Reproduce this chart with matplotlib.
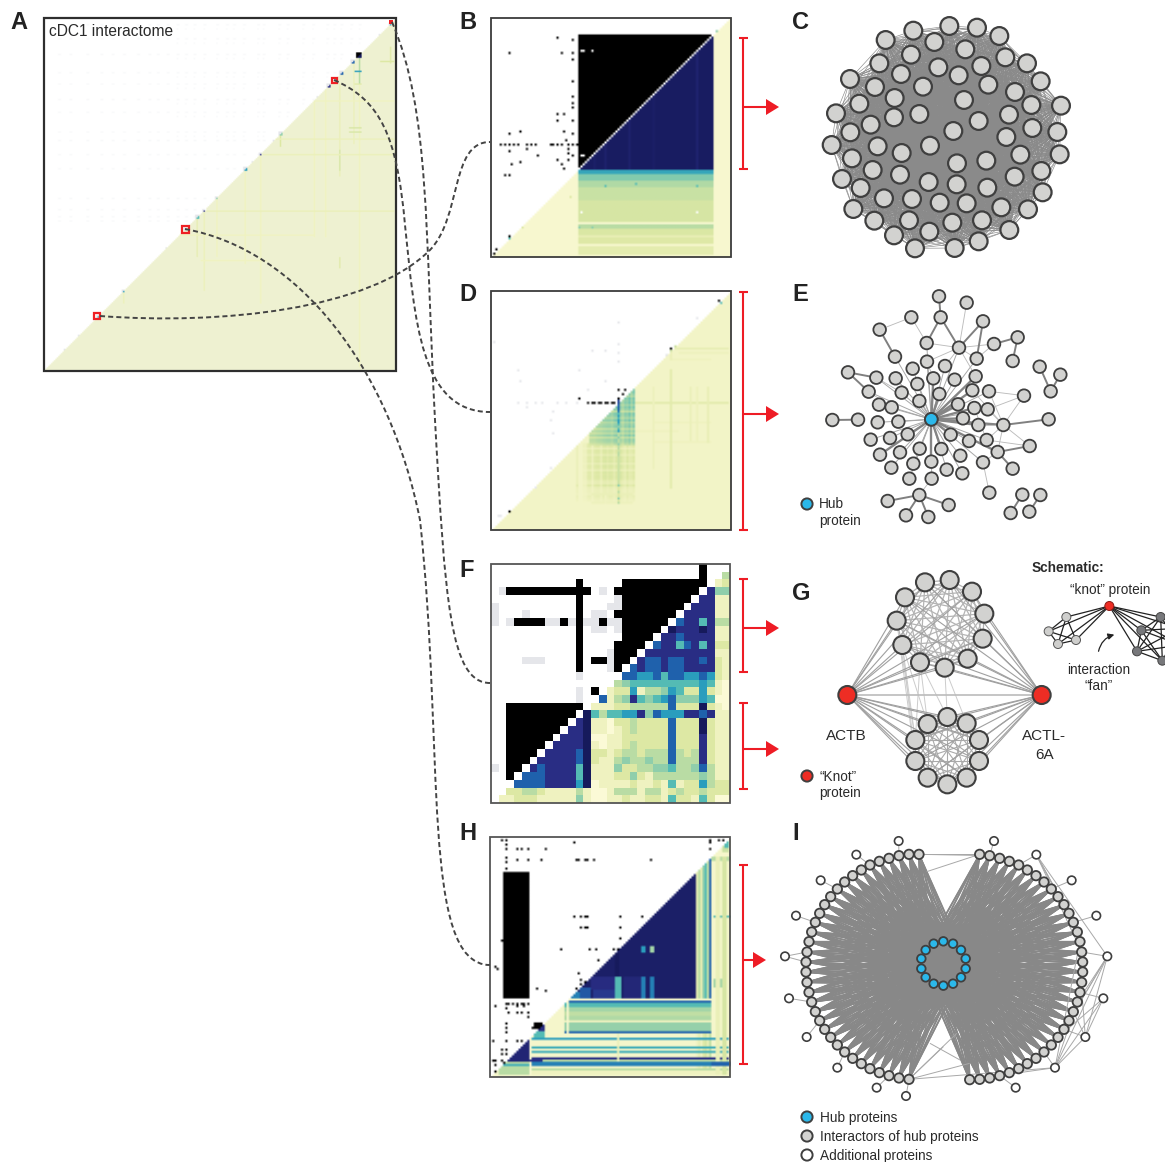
import matplotlib
matplotlib.use("Agg")
import matplotlib.pyplot as plt
import numpy as np
from matplotlib.collections import LineCollection
from matplotlib.colors import LinearSegmentedColormap
from matplotlib.patches import Circle, FancyArrowPatch, PathPatch, Polygon, Rectangle
from matplotlib.path import Path

plt.rcParams['font.family'] = ['Liberation Sans', 'DejaVu Sans']

heat_colors = ['#fbfad6', '#eff2c0', '#dde8a4', '#b9dca4', '#8fceac', '#55bcb4',
               '#2a9dbd', '#1f63ad', '#2a2e85', '#161a5c']
heat = LinearSegmentedColormap.from_list('heat', heat_colors)
BLACK, GRAY, FAINT, PALE = -1, -2, -3, -4

# panel F, one character per cell
f_rows = [
    '...........................k...',
    '...........................k..3',
    '...........k.....kkkkkkkkkkk.12',
    '.gkkkkkkkkkkk.g.kkkkkkkkkkk.844',
    '...........k....gkkkkkkkkk.8811',
    'g..........k...ggkkkkkkkk.88811',
    'g...g......k.gg.kkkkkkkk.888811',
    'g.gkkkkggkgkggkggkkkkkk.7885833',
    '...........k.gg.gkkkkk.98889811',
    '...........k.....kkkk.887888811',
    '...........k....kkkk.7885785822',
    '...........k...gkkk.88888888811',
    '....ggg....k.kkgkk.877877887821',
    '...........k...gk.7877877888821',
    '...........g.....77667577667621',
    '................345555555556510',
    '...........g.k.1226133465226210',
    '...........g..71348545674446500',
    '..kkkkkkkkkk.111223333372229210',
    '..kkkkkkkkk.9535566847666887811',
    '..kkkkkkkk.89110223222272229211',
    '..kkkkkkk.889110123222272229211',
    '..kkkkkk.8889001122222272228211',
    '..kkkkk.88889101123222272228211',
    '..kkkk.888879221233233373238211',
    '..kkk.8888879211343343373338211',
    'g.kk.87888859111422334453347311',
    '..k.777888859111224213333334311',
    '...7777888869011112112151226322',
    '..22332111131001333133123223222',
    '.112221111141001121122152215200',
]

# panel B: black cells and row bands, positions as read on a 3x crop
b_dots = [(233, 85), (277, 88), (89, 132), (244, 132), (277, 132), (277, 148), (277, 217), (277, 262),
          (277, 282), (277, 295), (233, 315), (252, 312), (233, 335), (277, 335), (122, 363), (89, 375),
          (250, 363), (277, 375), (256, 390), (62, 407), (75, 407), (89, 407), (105, 407), (116, 407),
          (140, 407), (152, 407), (165, 407), (210, 407), (222, 407), (233, 407), (244, 407), (268, 407),
          (277, 407), (290, 407), (89, 424), (140, 418), (268, 418), (268, 430), (277, 440), (172, 440),
          (233, 452), (244, 462), (268, 452), (94, 463), (122, 457), (250, 478), (78, 500), (89, 500),
          (89, 682), (50, 720), (40, 735)]
b_holes = [(303, 125), (312, 125), (340, 125), (303, 440), (312, 440)]
b_bands = [(482, 500, 5.7), (500, 515, 4.2), (515, 535, 3.2), (535, 575, 2.6), (575, 642, 2.2),
           (642, 648, 0.2), (648, 658, 3.0), (658, 682, 2.1), (682, 690, 1.4), (690, 706, 1.9),
           (706, 712, 0.3), (712, 738, 1.6)]
b_navy_cols = [(375, 8.6), (450, 8.6), (650, 8.5), (345, 8.7), (520, 8.75)]
b_specks = [(90, 685, 5), (130, 652, 2), (270, 560, 2), (300, 652, 4), (335, 652, 4), (375, 532, 5),
            (470, 522, 5), (650, 532, 5)]

# panel D
d_black = [(325, 358), (335, 358), (345, 358), (355, 358), (367, 358), (375, 358), (385, 358), (395, 358),
           (405, 358), (415, 313), (437, 313), (432, 330), (415, 342), (575, 192), (717, 48), (88, 680),
           (298, 342)]
d_gray = [(115, 358), (140, 358), (165, 358), (190, 358), (230, 358), (260, 358), (290, 358), (415, 112),
          (415, 180), (415, 205), (415, 230), (340, 198), (375, 198), (118, 255), (122, 290), (42, 175),
          (325, 315), (378, 290), (138, 370), (218, 380), (212, 410), (218, 450), (65, 695), (55, 695),
          (560, 210), (650, 100), (300, 260), (215, 555), (165, 608)]
d_plaid_cols = [1.3, 0, 0, 0.5, 0.5, 1.4, 1.5, 0.7, 1.5, 1.7, 1.7, 0.9, 1.8, 1.9, 1.5, 1.9, 1.8, 1.2, 1.8,
                2.2, 2.0, 1.4, 1.0, 1.8, 1.2, 1.3, 1.7]
d_plaid_rows = [0.7, 0.75, 0.4, 0.75, 0.7, 0.45, 0.75, 0.7, 0.75, 0.45, 0.75, 0.7, 0.4, 0.75, 0.7, 0.75, 0.7, 0.45,
                0.4, 0.75, 0.4, 0.3, 0.3, 0.2, 0.4, 0.3, 0.2]
d_teal_cols = [3.2, 3.3, 3.3, 3.5, 3.6, 3.6, 3.8, 3.9, 4.0, 4.0, 3.7, 4.2, 4.4, 6.5, 4.0, 3.4, 4.2, 4.0, 4.5,
               3.7, 4.5]
d_teal_rows = [1.0, 0.9, 1.0, 0.9, 0.8, 1.0, 0.95, 1.0, 0.85, 1.0, 0.9, 0.7, 1.0, 0.95, 0.8, 1.0, 0.8, 0.9,
               0.95, 0.7, 0.9, 0.75, 0.95, 0.7, 0.9, 0.85, 0.7]
d_dark_col = [7, 7.5, 7.5, 7, 7, 7, 6.5, 5, 6, 5, 6, 6, 5, 4, 5, 6, 3, 3, 4, 3, 3, 4, 3, 3, 2.5, 3, 3, 2.5, 2.5,
              2.5, 2.5, 2.5, 2.5, 2.5, 2.5, 2.5, 2.5, 2.5, 2.5, 2.5, 4, 2, 2, 3, 2, 2, 4, 2, 3]
d_stripes = [(470, 750, 358, 1.7), (580, 750, 192, 1.4), (600, 750, 205, 1.1), (580, 700, 225, 1.0),
             (520, 700, 415, 1.0), (520, 700, 470, 1.0), (340, 460, 630, 1.3), (340, 460, 655, 1.1),
             (470, 600, 440, 1.0)]
d_columns = [(575, 260, 620, 1.7), (635, 310, 470, 1.2), (655, 310, 470, 1.1), (687, 310, 480, 1.4),
             (520, 310, 560, 1.1), (575, 190, 230, 1.3), (292, 480, 600, 1.2), (378, 640, 660, 1.0)]

# panel H
h_dots = [(62, 42), (80, 42), (80, 55), (278, 50), (685, 42), (685, 50), (712, 42), (725, 42), (80, 68),
          (108, 68), (120, 68), (140, 68), (196, 68), (685, 68), (75, 100), (75, 112), (80, 128), (112, 104),
          (140, 104), (185, 104), (285, 104), (295, 104), (312, 104), (318, 104), (340, 104), (510, 104),
          (278, 277), (300, 277), (312, 277), (318, 277), (417, 277), (483, 277), (300, 304), (312, 304),
          (318, 304), (417, 304), (417, 338), (62, 345), (240, 375), (323, 370), (345, 375), (400, 370),
          (408, 375), (350, 408), (45, 425), (50, 430), (68, 420), (68, 430), (295, 447), (300, 465),
          (300, 475), (312, 470), (285, 487), (168, 487), (196, 497), (45, 540), (75, 537), (85, 537),
          (95, 537), (110, 537), (110, 545), (120, 537), (130, 537), (130, 545), (140, 537), (75, 550),
          (85, 563), (108, 563), (122, 563), (140, 563), (140, 578), (75, 598), (75, 610), (75, 622),
          (155, 608), (160, 608), (40, 645), (75, 645), (108, 645), (120, 645), (62, 672), (75, 672),
          (62, 686), (75, 686), (35, 707), (45, 707), (62, 705), (70, 715), (45, 720), (45, 740)]
h_upper_rows = [(520, 526, 7.5), (526, 532, 0.5), (532, 538, 7), (538, 546, 5), (546, 560, 3.5), (560, 575, 2.8),
                (575, 590, 3.2), (590, 598, 1), (598, 620, 3.8), (620, 626, 7)]
h_lower_rows = [(644, 650, 6), (665, 671, 5.5), (680, 686, 5.5), (703, 709, 8), (709, 714, 3), (714, 724, 6.5),
                (735, 742, 3), (742, 750, 1)]
h_right_cols = [(645, 652, 1.5), (652, 660, 3), (660, 667, 1.5), (667, 675, 4), (675, 680, 5), (680, 688, 2.5),
                (688, 695, 7)]
h_navy_patches = [(403, 418, 460, 520, 5), (410, 418, 500, 520, 3.5), (483, 489, 460, 520, 6.5), (509, 515, 460, 520, 6.5),
                  (483, 489, 365, 385, 6), (509, 515, 365, 385, 3.5), (403, 408, 385, 520, 9),
                  (300, 325, 490, 520, 7.2), (340, 400, 500, 520, 7.8), (270, 300, 505, 520, 6.5),
                  (330, 400, 460, 500, 8.1), (430, 480, 460, 520, 8.3)]
h_right_patches = [(698, 745, 272, 278, 4.8), (700, 725, 462, 490, 3.5), (695, 745, 95, 108, 3),
                   (725, 732, 100, 750, 2.2), (705, 712, 100, 750, 1.3), (695, 745, 712, 724, 7)]

# panel A
a_blobs = [(1170, 55, 2, 6), (1137, 92, 1, 7), (1074, 153, 4, 9), (1055, 172, 3, 7), (1020, 207, 3, 7),
           (1002, 225, 2, 6), (982, 245, 3, 8), (950, 280, 1, 6), (840, 390, 3, 4), (816, 411, 1, 7),
           (778, 450, 2, 8), (755, 473, 1, 5), (735, 492, 3, 6), (650, 580, 2, 4), (612, 616, 2, 8),
           (590, 640, 3, 5), (555, 672, 2, 6), (498, 730, 1, 6), (370, 858, 2, 6), (232, 995, 1, 4),
           (190, 1038, 1, 5), (291, 935, 2, 6)]
a_trails = [(1074, 160, 240, 3.0), (1060, 175, 420, 1.2), (1168, 130, 180, 1.8), (1015, 240, 520, 1.3),
            (1075, 240, 1090, 1.0), (975, 250, 700, 0.95), (940, 285, 700, 0.95), (840, 395, 430, 2.0),
            (778, 455, 900, 1.0), (735, 500, 780, 1.0), (650, 585, 760, 1.0), (612, 620, 860, 1.2),
            (590, 645, 760, 1.5), (370, 865, 900, 1.2), (1015, 440, 500, 2.2), (1015, 760, 795, 1.8)]
a_strips = [(1045, 1085, 370, 2.2), (1045, 1085, 385, 2.2), (1065, 1085, 200, 6), (1065, 1085, 238, 1.8),
            (790, 1180, 450, 1.2), (620, 1180, 618, 1.3), (820, 1180, 405, 1.2), (540, 940, 690, 1.0),
            (940, 1180, 290, 1.0), (600, 800, 770, 0.95), (1140, 1180, 170, 2.0)]
a_faint_rows = [60, 105, 150, 205, 240, 285, 325, 385, 410, 450, 495, 580, 615, 635, 650]
a_faint_cols = [175, 210, 260, 300, 335, 370, 410, 445, 470, 500, 530, 555, 580, 610, 650, 680, 700, 730, 770,
                790, 835, 860, 905, 935, 980, 1000, 1020, 1050, 1075]

# networks, node centres in pixels of a 3x crop
c_nodes = [(257, 90), (340, 62), (448, 48), (531, 53), (598, 78), (403, 96), (496, 118), (333, 134), (238, 160),
           (616, 142), (681, 160), (544, 168), (415, 172), (476, 196), (303, 192), (150, 207), (722, 214),
           (225, 231), (369, 230), (565, 224), (645, 246), (284, 264), (178, 281), (492, 270), (694, 285),
           (783, 287), (108, 310), (282, 322), (358, 312), (627, 314), (536, 333), (212, 344), (151, 367),
           (697, 354), (772, 366), (460, 363), (619, 381), (95, 405), (233, 409), (390, 407), (779, 433),
           (305, 429), (661, 434), (156, 445), (471, 460), (559, 452), (218, 480), (724, 483), (300, 494),
           (644, 500), (126, 507), (386, 516), (470, 523), (182, 534), (562, 533), (728, 547), (336, 567),
           (252, 565), (419, 578), (500, 580), (604, 592), (160, 597), (684, 598), (223, 632), (327, 631),
           (457, 638), (546, 631), (388, 665), (628, 660), (282, 676), (536, 694), (345, 715), (464, 714)]
e_nodes = [(447, 34), (530, 53), (364, 97), (452, 97), (579, 109), (269, 134), (683, 157), (410, 174), (507, 188),
           (612, 177), (315, 215), (560, 221), (668, 228), (411, 230), (465, 243), (368, 251), (749, 245), (811, 269),
           (174, 262), (259, 278), (317, 280), (430, 280), (494, 284), (557, 274), (382, 297), (236, 320), (335, 323),
           (448, 327), (547, 316), (597, 319), (702, 332), (782, 319), (388, 348), (267, 359), (305, 367), (504, 358),
           (553, 369), (593, 373), (127, 405), (204, 404), (263, 412), (325, 410), (424, 403), (519, 400), (565, 420),
           (640, 420), (776, 403), (353, 448), (482, 449), (242, 464), (300, 459), (537, 468), (590, 465), (389, 491),
           (454, 492), (330, 502), (270, 509), (623, 501), (719, 483), (511, 512), (424, 530), (370, 536), (579, 532),
           (304, 548), (470, 554), (517, 565), (668, 551), (358, 581), (425, 581), (598, 623), (388, 630), (293, 648),
           (476, 660), (697, 629), (751, 630), (348, 691), (415, 696), (662, 684), (718, 680)]
e_hub = 42
e_spokes = [10, 13, 14, 15, 19, 20, 22, 24, 25, 26, 29, 32, 33, 34, 37, 40, 41, 47, 49, 50, 51, 52, 53, 55, 59, 61,
            62, 63, 64, 65, 67, 68, 7, 8, 11]
e_thick_spokes = [43, 44, 23, 28, 21, 27, 60, 54, 48, 57, 56, 35, 36, 45]
e_dark_edges = [(0, 3), (3, 7), (3, 8), (8, 4), (4, 11), (9, 6), (6, 12), (5, 10), (18, 19), (18, 25), (38, 39),
                (45, 46), (57, 58), (57, 66), (70, 71), (70, 72), (70, 75), (70, 76), (73, 77), (74, 78), (16, 31),
                (17, 31)]
e_light_edges = [(2, 7), (2, 5), (1, 8), (7, 8), (8, 9), (8, 11), (8, 14), (11, 9), (29, 30), (37, 30), (45, 30),
                 (45, 58), (52, 58), (37, 45), (29, 45), (44, 45), (57, 45), (57, 62), (62, 69), (68, 70), (52, 45),
                 (28, 45), (26, 19), (25, 34), (8, 13), (8, 23), (36, 52), (13, 21)]

g_top = [(405, 97), (479, 90), (546, 125), (345, 142), (583, 191), (320, 212), (578, 266), (337, 285), (533, 326),
         (390, 337), (464, 353)]
g_bottom = [(472, 501), (413, 522), (530, 520), (376, 570), (567, 570), (376, 633), (567, 633), (413, 683),
            (530, 683), (472, 703)]
g_knots = [(172, 435), (755, 435)]
g_cross = [(7, 3), (7, 1), (7, 5), (9, 1), (9, 3), (9, 0), (10, 0), (10, 2), (5, 3), (5, 5)]

s_red = (958, 168)
s_light = [(829, 201), (776, 244), (804, 282), (858, 270)]
s_dark = [(1112, 201), (1054, 241), (1041, 304), (1117, 332), (1170, 235), (1172, 285)]
s_light_edges = [(0, 1), (0, 2), (0, 3), (1, 2), (1, 3), (2, 3)]
s_dark_edges = [(0, 1), (0, 2), (0, 3), (1, 2), (1, 3), (2, 3), (0, 4), (0, 5), (1, 4), (1, 5), (2, 4), (2, 5), (3, 4),
                (3, 5)]

i_left = [(417, 73), (387, 73), (357, 77), (327, 85), (298, 94), (270, 105), (244, 120), (218, 137), (194, 156),
          (172, 177), (152, 200), (134, 224), (119, 250), (106, 277), (95, 306), (87, 335), (81, 366), (78, 396),
          (78, 426), (81, 457), (87, 487), (95, 516), (106, 545), (119, 572), (134, 598), (152, 622), (172, 645),
          (194, 666), (218, 685), (244, 701), (270, 716), (298, 728), (327, 737), (357, 744), (387, 748)]
i_right = [(569, 749), (599, 748), (629, 744), (659, 737), (688, 728), (716, 716), (742, 701), (768, 685), (792, 666),
           (814, 645), (834, 622), (852, 598), (867, 572), (880, 545), (892, 516), (900, 487), (905, 457), (908, 426),
           (908, 396), (905, 366), (900, 335), (892, 306), (880, 277), (867, 250), (852, 224), (834, 200), (814, 177),
           (792, 156), (768, 137), (742, 120), (716, 105), (688, 94), (659, 85), (629, 77), (599, 73)]
i_hubs = [(490, 334), (519, 341), (543, 360), (557, 386), (557, 416), (543, 442), (519, 461), (490, 467), (461, 461),
          (437, 442), (424, 416), (424, 386), (437, 360), (461, 341)]
i_extra = [(356, 33), (642, 33), (229, 74), (769, 74), (122, 151), (875, 151), (48, 257), (949, 257), (15, 379),
           (982, 379), (27, 505), (970, 505), (80, 621), (916, 621), (172, 713), (825, 713), (290, 773), (707, 773),
           (378, 798)]
i_links = [((356, 33), (357, 77)), ((642, 33), (629, 77)), ((229, 74), (270, 105)), ((122, 151), (172, 177)),
           ((48, 257), (106, 277)), ((15, 379), (81, 366)), ((15, 379), (78, 396)), ((27, 505), (95, 516)),
           ((80, 621), (119, 572)), ((172, 713), (194, 666)), ((290, 773), (327, 737)), ((378, 798), (387, 748)),
           ((707, 773), (659, 737)), ((875, 151), (814, 177)), ((949, 257), (880, 277)),
           ((417, 73), (599, 73)), ((387, 73), (599, 73)), ((417, 73), (629, 77)), ((440, 125), (599, 73)),
           ((769, 74), (982, 379)), ((769, 74), (905, 366)), ((769, 74), (892, 306)), ((769, 74), (716, 105)),
           ((769, 74), (852, 224)), ((769, 74), (880, 277)),
           ((982, 379), (892, 516)), ((982, 379), (867, 572)), ((982, 379), (905, 366)), ((982, 379), (916, 621)),
           ((982, 379), (825, 713)), ((982, 379), (852, 598)),
           ((970, 505), (825, 713)), ((970, 505), (900, 487)), ((970, 505), (834, 622)), ((970, 505), (916, 621)),
           ((916, 621), (825, 713)), ((916, 621), (852, 598)), ((916, 621), (880, 545)), ((916, 621), (892, 306)),
           ((825, 713), (892, 516)), ((825, 713), (900, 335)), ((825, 713), (792, 666)), ((825, 713), (387, 748)),
           ((825, 713), (569, 749)),
           ((569, 700), (387, 748)), ((490, 650), (387, 748)), ((530, 610), (387, 748)), ((450, 640), (540, 690))]


def new_matrix(n, base):
    L = np.full((n, n), np.nan)
    for r in range(n):
        L[r, max(n - r, 0):] = base
    return L


def to_rgb(L):
    rgb = heat(np.nan_to_num(np.clip(L, 0, 9), nan=0) / 9)[:, :, :3]
    rgb[np.isnan(L)] = (1, 1, 1)
    rgb[L == BLACK] = (0, 0, 0)
    rgb[L == GRAY] = (0.90, 0.905, 0.92)
    rgb[L == FAINT] = (0.975, 0.978, 0.982)
    rgb[L == PALE] = (0.937, 0.949, 0.82)
    return rgb


class Grid:
    # maps crop coordinates to matrix cells
    def __init__(self, n, zx0, zy0, cell):
        self.n, self.zx0, self.zy0, self.cell = n, zx0, zy0, cell

    def c(self, zx):
        return int(np.clip((zx - self.zx0) / self.cell, 0, self.n - 1))

    def r(self, zy):
        return int(np.clip((zy - self.zy0) / self.cell, 0, self.n - 1))


def lower(L, r0, r1, c0, c1, value):
    # paint a block, only below the anti-diagonal
    n = len(L)
    for r in range(r0, r1):
        for c in range(c0, c1):
            if r + c >= n:
                L[r, c] = value


def build_b():
    n = 110
    g = Grid(n, 33, 22, 6.55)
    L = new_matrix(n, 0.3)
    c0, c1 = g.c(298), g.c(703)
    r0, r1 = g.r(80), g.r(482)
    for r in range(r0, r1):
        for c in range(c0, c1):
            L[r, c] = BLACK if r + c < n - 1 else 8.85
    for zx, level in b_navy_cols:
        for r in range(r0, r1):
            c = g.c(zx)
            if r + c >= n:
                L[r, c] = level
    for r in range(r0, r1):
        if n - 1 - r >= c0:
            L[r, n - 1 - r] = np.nan
    for z0, z1, level in b_bands:
        L[g.r(z0):max(g.r(z1), g.r(z0) + 1), c0:c1] = level
    for zx, zy in b_dots:
        L[g.r(zy), g.c(zx)] = BLACK
    for zx, zy in b_holes:
        L[g.r(zy), g.c(zx)] = np.nan
    for zx, zy, level in b_specks:
        L[g.r(zy), g.c(zx)] = level
    L[g.r(605), g.c(305)] = np.nan
    L[g.r(605), g.c(655)] = np.nan
    L[g.r(65), g.c(708)] = 4
    return L


def build_d():
    n = 110
    g = Grid(n, 33, 18, 6.55)
    L = new_matrix(n, 0.7)
    c0, r0 = g.c(290), g.r(480)
    for i, rv in enumerate(d_plaid_rows):
        for j, cv in enumerate(d_plaid_cols):
            r, c = r0 + i, c0 + j
            if r + c >= n:
                L[r, c] = 0.7 + cv * rv
    c0, r0 = g.c(330), g.r(310)
    for zx0, zx1, zy, level in d_stripes:
        lower(L, g.r(zy), g.r(zy) + 1, g.c(zx0), g.c(zx1), level)
    for zx, zy0, zy1, level in d_columns:
        lower(L, g.r(zy0), g.r(zy1), g.c(zx), g.c(zx) + 1, level)
    c1 = g.c(468)
    t_cols = d_teal_cols[-(c1 - c0):]
    for i, rv in enumerate(d_teal_rows):
        for j, cv in enumerate(t_cols):
            r, c = r0 + i, c0 + j
            if r + c >= n:
                L[r, c] = cv * rv
    r0 = g.r(345)
    for i, level in enumerate(d_dark_col):
        L[r0 + i, g.c(415)] = level
    for zx, zy in d_gray:
        L[g.r(zy), g.c(zx)] = GRAY
    for zx, zy in d_black:
        L[g.r(zy), g.c(zx)] = BLACK
    L[g.r(56), g.c(722)] = 5
    for zx0, zy0 in [(585, 185), (575, 195)]:
        L[g.r(zy0), g.c(zx0)] = 2.5
    return L


def build_h():
    n = 110
    g = Grid(n, 28, 35, 6.55)
    L = new_matrix(n, 0.5)
    L[g.r(142):g.r(522), g.c(72):g.c(148)] = BLACK
    r0, r1 = g.r(148), g.r(520)
    c0, c1 = g.c(265), g.c(645)
    lower(L, r0, r1, c0, c1, 8.7)
    for r in range(r0, r1):
        if g.c(265) <= n - 1 - r < n:
            L[r, n - 1 - r] = np.nan
    for zx0, zx1, zy0, zy1, level in h_navy_patches[::-1]:
        lower(L, g.r(zy0), g.r(zy1), g.c(zx0), g.c(zx1) + 1, level)
    lower(L, g.r(365), g.r(368), g.c(403), g.c(515), 9)
    lower(L, g.r(384), g.r(387), g.c(403), g.c(515), 9)
    for zx0, zx1, level in h_right_cols:
        lower(L, g.r(80), g.r(750), g.c(zx0), g.c(zx0) + 1, level * 0.35 + 0.4)
        lower(L, g.r(100), g.r(522), g.c(zx0), g.c(zx0) + 1, level)
    for z0, z1, level in h_upper_rows:
        lower(L, g.r(z0), max(g.r(z1), g.r(z0) + 1), g.c(255), g.c(695), level)
    for z0, z1, level in h_lower_rows:
        lower(L, g.r(z0), max(g.r(z1), g.r(z0) + 1), g.c(150), g.c(745), level)
    lower(L, g.r(530), g.r(625), g.c(258), g.c(258) + 1, 0.4)
    lower(L, g.r(625), g.r(715), g.c(410), g.c(420), 1.2)
    lower(L, g.r(625), g.r(750), g.c(152), g.c(152) + 1, 0.3)
    # small triangles at the lower left
    lower(L, g.r(640), g.r(715), g.c(70), g.c(150), 8.4)
    lower(L, g.r(705), g.r(715), g.c(150), g.c(190), 8)
    lower(L, g.r(715), g.r(750), g.c(60), g.c(150), 3)
    lower(L, g.r(720), g.r(728), g.c(60), g.c(150), 5.5)
    L[g.r(595):g.r(612), g.c(165):g.c(190)] = BLACK
    lower(L, g.r(600), g.r(620), g.c(165), g.c(195), 8)
    lower(L, g.r(620), g.r(640), g.c(165), g.c(195), 5)
    for zx0, zx1, zy0, zy1, level in h_right_patches:
        lower(L, g.r(zy0), max(g.r(zy1), g.r(zy0) + 1), g.c(zx0), g.c(zx1) + 1, level)
    lower(L, g.r(50), g.r(85), g.c(725), g.c(750), 2.5)
    lower(L, g.r(40), g.r(70), g.c(730), g.c(750), 5)
    for zx, zy in h_dots:
        L[g.r(zy), g.c(zx)] = BLACK
    return L


def build_a():
    n = 250
    g = Grid(n, 130, 38, 4.232)
    L = new_matrix(n, PALE)
    for zy in a_faint_rows:
        for zx in a_faint_cols:
            r, c = g.r(zy), g.c(zx)
            if r + c < n:
                L[r, c] = FAINT
                L[r, min(c + 1, n - 1)] = FAINT
    for zx in a_faint_cols[10:]:
        for zy in a_faint_rows[:8]:
            r, c = g.r(zy + 12), g.c(zx)
            if r + c < n:
                L[r, c] = FAINT
    for zx, zy0, zy1, level in a_trails:
        lower(L, g.r(zy0), g.r(zy1), g.c(zx), g.c(zx) + 1, level)
    for zx0, zx1, zy, level in a_strips:
        lower(L, g.r(zy), g.r(zy) + 1, g.c(zx0), g.c(zx1), level)
    for zx, zy, size, level in a_blobs:
        c, r = g.c(zx), g.r(zy)
        c, r = c - size // 2, n - c + size // 2 - size
        L[r:r + size, c:c + size] = BLACK if level == 9 else GRAY
        lower(L, r, r + size, c, c + size, level)
    return L


def build_f():
    L = np.full((31, 31), np.nan)
    for r, row in enumerate(f_rows):
        for c, ch in enumerate(row.ljust(31, '.')[:31]):
            if ch == 'k':
                L[r, c] = BLACK
            elif ch == 'g':
                L[r, c] = GRAY
            elif ch != '.':
                L[r, c] = float(ch)
    return L


fig = plt.figure(figsize=(11.65, 11.62), dpi=100)
ax = fig.add_axes([0, 0, 1, 1])
ax.axis('off')


def heatmap(L, x0, x1, y0, y1, interp='bilinear', lw=1.3, col='#3c3c3c'):
    ax.imshow(to_rgb(L), extent=[x0, x1, y1, y0], aspect='auto', interpolation=interp, zorder=1)
    ax.add_patch(Rectangle((x0, y0), x1 - x0, y1 - y0, fill=False, ec=col, lw=lw, zorder=2))


heatmap(build_a(), 43.5, 396, 18, 370.5, lw=1.6, col='#2e2e2e')
heatmap(build_b(), 491, 731, 17.5, 257)
heatmap(build_d(), 491, 731, 291, 530)
heatmap(build_f(), 490.7, 729.5, 564, 803, interp='nearest', col='#555555')
heatmap(build_h(), 489.5, 730, 837, 1077, col='#555555')

# red marks on panel A
ax.add_patch(Rectangle((389, 20), 4, 4, fc='#ee2024', ec='none', zorder=3))
for x, y, s in [(334, 80, 5), (185, 229, 7), (97, 316, 6)]:
    ax.add_patch(Rectangle((x - s / 2, y - s / 2), s, s, fc='none', ec='#ee2024', lw=1.6, zorder=3))

# dashed connectors
curves = [
    [(100, 316), (220, 325), (370, 310), (430, 250), (462, 217), (450, 142), (490, 142)],
    [(334, 80), (380, 100), (397, 135), (405, 225), (415, 320), (420, 412), (490, 412)],
    [(185, 229), (300, 250), (390, 370), (420, 520), (445, 750), (420, 965), (490, 965)],
    [(392, 22), (430, 110), (425, 230), (435, 420), (445, 600), (450, 683), (490, 683)],
]
for pts in curves:
    codes = [Path.MOVETO] + [Path.CURVE4] * 6
    ax.add_patch(PathPatch(Path(pts, codes), fc='none', ec='#444444', lw=1.4,
                           ls=(0, (2.6, 1.6)), zorder=3))

# red brackets and arrows
RED = '#ee1c25'
brackets = [(38, 169, 107, 766), (292, 530, 414, 766), (579, 672, 628, 766), (703, 789, 749, 766), (865, 1064, 960, 753)]
for y0, y1, ya, xh in brackets:
    ax.plot([743, 743], [y0, y1], color=RED, lw=1.5, zorder=3, solid_capstyle='butt')
    ax.plot([738.5, 747.5], [y0, y0], color=RED, lw=1.5, zorder=3, solid_capstyle='butt')
    ax.plot([738.5, 747.5], [y1, y1], color=RED, lw=1.5, zorder=3, solid_capstyle='butt')
    ax.plot([743, xh], [ya, ya], color=RED, lw=1.5, zorder=3, solid_capstyle='butt')
    ax.add_patch(Polygon([(xh, ya - 8), (xh + 13, ya), (xh, ya + 8)], fc=RED, ec='none', zorder=3))


def px(points, x0, y0):
    return [(x0 + x / 3, y0 + y / 3) for x, y in points]


def edges(segs, color, lw, z=3):
    ax.add_collection(LineCollection(segs, colors=color, linewidths=lw, zorder=z))


def nodes(points, r, fc, ec='#3f3f3f', lw=1.4, z=4):
    for x, y in points:
        ax.add_patch(Circle((x, y), r, fc=fc, ec=ec, lw=lw, zorder=z))


NODE = '#d2d2d0'
HUB = '#2bb8ea'
KNOT = '#ee2d24'

# C
cp = px(c_nodes, 800, 10)
edges([(a, b) for i, a in enumerate(cp) for b in cp[i + 1:]], '#8a8a8a', 0.45)
nodes(cp, 8.9, NODE, lw=1.6)

# E
ep = px(e_nodes, 790, 285)
hub = ep[e_hub]
edges([(hub, ep[i]) for i in e_spokes], '#a8a8a8', 0.7)
edges([(hub, ep[i]) for i in e_thick_spokes], '#858585', 1.7)
edges([(ep[a], ep[b]) for a, b in e_light_edges], '#bcbcbc', 0.65)
edges([(ep[a], ep[b]) for a, b in e_dark_edges], '#808080', 1.4)
nodes(ep, 6.3, NODE, lw=1.3)
nodes([hub], 6.3, HUB, lw=1.3, z=5)

# G
gt, gb, gk = px(g_top, 790, 550), px(g_bottom, 790, 550), px(g_knots, 790, 550)
edges([(a, b) for i, a in enumerate(gt) for b in gt[i + 1:]], '#b4b4b4', 0.9)
edges([(a, b) for i, a in enumerate(gb) for b in gb[i + 1:]], '#aaaaaa', 0.8)
edges([(gt[a], gb[b]) for a, b in g_cross], '#cccccc', 0.7)
edges([(k, p) for k in gk for p in gt + gb], '#a0a0a0', 0.8)
edges([(gk[0], gk[1])], '#bbbbbb', 1.2)
nodes(gt + gb, 9, NODE, lw=1.5)
nodes(gk, 9, KNOT, lw=1.5)

# schematic
sr = px([s_red], 790, 550)[0]
sl, sd = px(s_light, 790, 550), px(s_dark, 790, 550)
edges([(sr, p) for p in sl + sd], '#222222', 0.9)
edges([(sl[a], sl[b]) for a, b in s_light_edges], '#222222', 0.9)
edges([(sd[a], sd[b]) for a, b in s_dark_edges], '#222222', 0.9)
nodes(sl, 4.5, '#cfcfcd', ec='#555555', lw=0.7)
nodes(sd, 4.5, '#77787b', ec='#444444', lw=0.7)
nodes([sr], 4.5, KNOT, ec='#8a1a14', lw=0.7)
ax.add_patch(FancyArrowPatch((1098, 654), (1117, 634), connectionstyle='arc3,rad=-0.35', arrowstyle='-|>',
                             mutation_scale=9, color='#222222', lw=0.9, zorder=4))

# I
il, ir, ih, ie = px(i_left, 780, 830), px(i_right, 780, 830), px(i_hubs, 780, 830), px(i_extra, 780, 830)
edges([(h, p) for h in ih for p in il + ir], '#888888', 1.15)
link_segs = [px(pair, 780, 830) for pair in i_links]
edges(link_segs, '#a8a8a8', 0.7)
nodes(il + ir, 4.7, NODE, lw=1.3)
nodes(ih, 4.3, HUB, lw=1.3)
nodes(ie, 4.2, 'white', lw=1.2)

# legends
nodes([(807, 504)], 5.6, HUB, lw=1.4)
nodes([(807, 776)], 5.6, KNOT, lw=1.4)
nodes([(807, 1117)], 5.6, HUB, lw=1.4)
nodes([(807, 1136)], 5.6, NODE, lw=1.4)
nodes([(807, 1155)], 5.6, 'white', lw=1.4)

TXT = '#2a2a2a'


def label(x, y, s, size=9.8, **kw):
    kw.setdefault('ha', 'left')
    kw.setdefault('va', 'center')
    kw.setdefault('color', TXT)
    ax.text(x, y + 1, s, fontsize=size, zorder=6, **kw)


panel_labels = {'A': (10, 21.5), 'B': (459, 21.5), 'C': (792, 21.5), 'D': (459, 293.5), 'E': (792, 293.5),
                'F': (459, 569.5), 'G': (792, 592.5), 'H': (459, 832.5), 'I': (792, 832.5)}
for name, (x, y) in panel_labels.items():
    label(x, y, name, size=17, fontweight='bold', color='#222222')

label(49, 30, 'cDC1 interactome', size=11.2)
label(819, 503, 'Hub')
label(819, 519.5, 'protein')
label(819, 776, '\u201cKnot\u201d')
label(819, 792.5, 'protein')
label(846, 734.5, 'ACTB', size=11, ha='center')
label(1022, 734.5, 'ACTL-', size=11)
label(1045, 754, '6A', size=11, ha='center')
label(1032, 567, 'Schematic:', fontweight='bold')
label(1110, 589, '\u201cknot\u201d protein', ha='center')
label(1099, 668.5, 'interaction', ha='center')
label(1099, 685, '\u201cfan\u201d', ha='center')
label(820, 1117, 'Hub proteins')
label(820, 1136, 'Interactors of hub proteins')
label(820, 1155, 'Additional proteins')

ax.set_xlim(0, 1165)
ax.set_ylim(1162, 0)
fig.savefig('out.png', dpi=100, facecolor='white')
